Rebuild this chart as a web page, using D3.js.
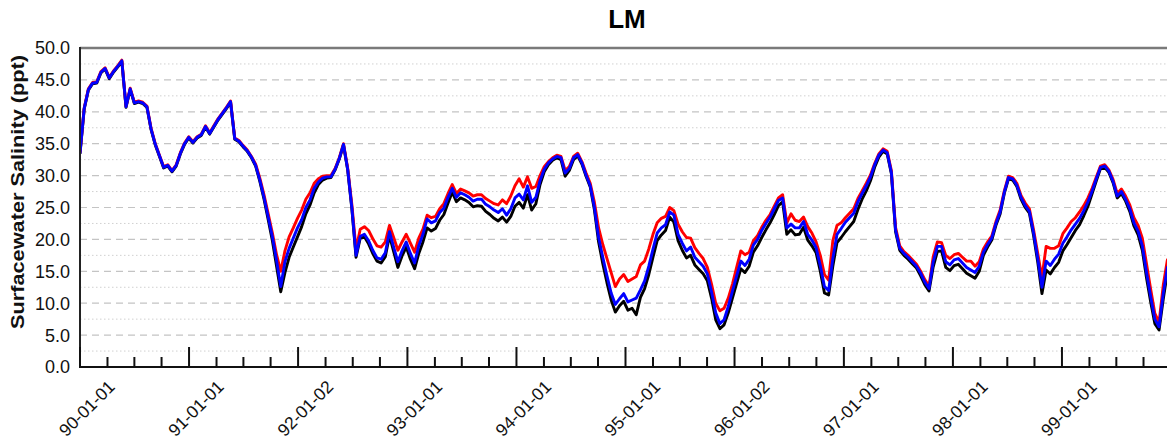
<!DOCTYPE html>
<html><head><meta charset="utf-8">
<script src="https://cdn.jsdelivr.net/npm/d3@7"></script>
<style>
html,body{margin:0;padding:0;background:#fff;}
svg{display:block;}
text{font-family:"Liberation Sans",Arial,Helvetica,sans-serif;}
</style></head>
<body>
<svg id="chart" width="1167" height="440"></svg>
<script>
const chartTitle = "LM";
const yTitle = "Surfacewater Salinity (ppt)";
const startDate = "1989-10-01";
const stepDays = 14;
const domainDates = ["1989-10-01", "1999-10-01"];
const xTickLabels = ["90-01-01","91-01-01","92-01-02","93-01-01","94-01-01","95-01-01","96-01-02","97-01-01","98-01-01","99-01-01"];
const yTickValues = [0,5,10,15,20,25,30,35,40,45,50];
const yMinorValues = [2.5,7.5,12.5,17.5,22.5,27.5,32.5,37.5,42.5,47.5];

const seriesBlack = [
33.4,40.4,43.4,44.4,44.5,46.1,46.7,45.2,46.2,47.0,
47.9,40.7,43.5,41.3,41.5,41.3,40.7,37.2,34.8,33.0,
31.2,31.5,30.6,31.5,33.4,34.9,35.9,35.1,35.9,36.3,
37.6,36.5,37.6,38.7,39.6,40.5,41.5,35.7,35.3,34.5,
33.8,32.8,31.5,29.1,26.3,23.1,19.8,15.8,11.8,14.8,
17.2,18.8,20.4,22.0,24.0,25.4,27.3,28.6,29.3,29.6,
29.7,30.9,32.6,34.8,30.9,24.8,17.2,20.2,20.4,19.3,
17.8,16.6,16.3,17.3,20.6,18.1,15.6,17.4,18.8,16.9,
15.4,17.8,19.6,21.8,21.3,21.7,23.0,23.9,25.7,27.4,
25.9,26.5,26.2,25.8,25.1,25.3,25.2,24.4,23.9,23.3,
22.9,23.5,22.7,23.6,25.2,25.8,24.9,27.0,24.6,25.6,
28.6,30.6,31.7,32.4,32.8,32.5,29.9,30.8,32.5,33.1,
31.8,29.9,28.2,24.6,19.6,16.2,13.2,10.5,8.6,9.6,
10.3,8.9,9.2,8.2,10.9,12.3,14.5,17.2,19.8,20.7,
21.4,23.5,22.7,19.8,18.3,17.1,17.5,16.0,15.3,14.6,
13.5,10.8,7.4,6.0,6.6,8.5,10.8,13.1,15.4,14.8,
15.8,18.0,19.0,20.3,21.5,22.6,23.9,25.3,25.9,20.8,
21.5,20.7,20.8,21.9,19.9,19.0,17.9,15.0,11.6,11.3,
15.8,19.5,20.3,21.2,22.0,22.8,24.7,26.3,27.6,29.2,
31.3,32.9,33.8,33.4,30.3,21.2,18.3,17.5,16.9,16.2,
15.5,14.3,12.9,11.9,15.7,18.1,18.2,15.6,15.1,15.9,
16.1,15.4,14.7,14.3,13.9,15.0,17.5,18.8,19.9,22.2,
24.0,27.2,29.5,29.3,28.3,26.3,25.0,24.1,20.6,16.4,
11.5,15.2,14.6,15.6,16.4,18.2,19.2,20.3,21.4,22.3,
23.7,25.2,27.2,29.2,31.1,31.3,30.5,28.9,26.5,27.2,
26.0,24.4,22.1,20.7,18.3,14.0,10.2,6.8,5.8,10.6,
14.9,15.9
];
const seriesRed = [
33.6,40.6,43.6,44.6,44.7,46.3,46.9,45.4,46.4,47.2,
48.1,40.9,43.7,41.5,41.7,41.5,40.9,37.4,35.0,33.2,
31.4,31.7,30.8,31.7,33.6,35.1,36.1,35.3,36.1,36.5,
37.8,36.7,37.8,38.9,39.8,40.7,41.7,35.9,35.5,34.7,
34.0,33.0,31.8,29.6,27.0,24.0,21.0,17.6,15.0,18.2,
20.4,21.8,23.3,24.6,26.3,27.3,28.8,29.5,29.9,30.0,
30.0,31.1,32.8,35.0,31.2,25.5,18.5,21.6,22.0,21.4,
20.1,19.0,18.8,19.6,22.2,20.3,18.3,19.6,20.8,19.4,
18.0,20.2,21.6,23.8,23.4,23.6,24.8,25.6,27.2,28.6,
27.2,27.9,27.6,27.3,26.8,27.0,27.0,26.4,26.0,25.6,
25.4,26.2,25.6,26.8,28.4,29.5,28.2,29.8,28.0,28.3,
30.0,31.4,32.2,32.8,33.2,33.0,30.8,31.4,33.0,33.5,
32.2,30.4,28.8,25.8,21.8,19.2,17.0,14.8,12.6,13.8,
14.5,13.4,13.8,14.2,16.0,16.6,18.5,20.8,22.6,23.3,
23.6,25.0,24.5,22.4,21.2,20.3,20.2,18.7,17.8,17.0,
15.6,13.0,10.0,8.8,9.2,10.8,13.0,15.6,18.2,17.6,
18.0,19.8,20.6,21.9,23.0,23.9,25.2,26.5,27.0,22.6,
24.0,23.0,22.8,23.5,22.0,21.0,19.6,17.5,14.5,13.6,
19.8,22.2,22.6,23.4,24.1,24.8,26.4,27.6,28.8,30.1,
31.9,33.4,34.2,33.8,30.8,21.9,19.0,18.1,17.5,16.8,
16.1,15.0,13.7,12.7,17.3,19.6,19.5,17.5,17.0,17.6,
17.8,17.2,16.6,16.6,15.8,16.5,18.5,19.6,20.5,22.8,
24.6,27.6,29.9,29.7,28.8,26.9,25.7,24.8,21.5,17.8,
14.0,18.9,18.6,18.6,19.0,20.9,21.8,22.8,23.4,24.3,
25.3,26.5,28.0,29.8,31.5,31.7,30.9,29.4,27.2,27.9,
26.8,25.4,23.4,22.2,20.2,16.2,12.2,8.4,7.0,12.8,
16.8,17.6
];
const seriesBlue = [
33.5,40.5,43.5,44.5,44.6,46.2,46.8,45.3,46.3,47.1,
48.0,40.8,43.6,41.4,41.6,41.4,40.8,37.3,34.9,33.1,
31.3,31.6,30.7,31.6,33.5,35.0,36.0,35.2,36.0,36.4,
37.7,36.6,37.7,38.8,39.7,40.6,41.6,35.8,35.4,34.6,
33.9,32.9,31.6,29.3,26.6,23.5,20.4,16.7,12.6,16.5,
18.6,20.2,21.8,23.1,25.0,26.2,28.0,29.0,29.6,29.8,
29.8,31.0,32.7,34.9,31.0,25.0,17.5,20.5,20.8,19.8,
18.3,17.1,16.9,17.9,21.2,18.8,16.5,18.2,19.6,17.8,
16.3,19.0,20.8,23.2,22.6,22.9,24.2,24.9,26.6,28.0,
26.6,27.3,27.0,26.6,26.0,26.3,26.3,25.5,25.1,24.6,
24.2,24.8,23.8,24.8,26.5,27.1,26.2,28.4,25.8,26.6,
29.2,31.0,32.0,32.6,33.0,32.8,30.4,31.1,32.8,33.3,
32.0,30.1,28.4,25.0,20.3,17.2,14.3,11.6,9.8,10.7,
11.5,10.2,10.5,10.8,12.1,13.5,15.8,18.5,21.0,21.8,
22.3,24.3,23.8,20.8,19.4,18.2,18.8,17.2,16.5,15.8,
14.6,11.8,8.5,6.8,7.4,9.5,11.9,14.3,16.6,15.9,
16.9,19.1,20.0,21.4,22.5,23.5,24.8,26.1,26.5,21.8,
22.4,21.8,21.8,22.8,20.8,19.9,18.7,15.9,12.6,12.0,
17.0,20.8,21.7,22.7,23.4,24.1,25.9,27.2,28.4,29.8,
31.7,33.2,34.0,33.6,30.5,21.5,18.6,17.8,17.2,16.5,
15.8,14.7,13.3,12.3,16.5,18.9,18.9,16.5,16.0,16.8,
17.0,16.3,15.6,15.2,14.8,15.8,18.0,19.2,20.2,22.5,
24.3,27.4,29.7,29.5,28.5,26.6,25.3,24.4,21.0,17.0,
12.5,16.6,15.9,16.9,17.7,19.4,20.4,21.5,22.4,23.3,
24.5,25.9,27.6,29.5,31.3,31.5,30.7,29.1,26.8,27.5,
26.3,24.8,22.6,21.3,19.0,14.8,11.0,7.5,6.3,11.5,
15.6,16.5
];
const seriesColors = ["#000000", "#ff0000", "#0000ff"];

(function () {
const svg = d3.select("#chart");
const W = 1167;
const pLeft = 80, pTop = 48, pBottom = 367, pRight = 1171;

const parse = d3.utcParse("%Y-%m-%d");
const x = d3.scaleUtc().domain(domainDates.map(parse)).range([pLeft, pRight]);
const y = d3.scaleLinear().domain([0, 50]).range([pBottom, pTop]);

svg.append("defs").append("clipPath").attr("id","clip")
  .append("rect").attr("x", pLeft).attr("y", pTop).attr("width", W - pLeft).attr("height", pBottom - pTop);

// grid
const g = svg.append("g");
g.selectAll("line.major").data(yTickValues.filter(v => v > 0 && v < 50)).join("line")
  .attr("class", "major")
  .attr("x1", pLeft).attr("x2", W).attr("y1", d => y(d)).attr("y2", d => y(d))
  .attr("stroke", "#c4c4c4").attr("stroke-width", 1.2).attr("stroke-dasharray", "7,5");
g.selectAll("line.minor").data(yMinorValues).join("line")
  .attr("class", "minor")
  .attr("x1", pLeft).attr("x2", W).attr("y1", d => y(d)).attr("y2", d => y(d))
  .attr("stroke", "#d0d0d0").attr("stroke-width", 1).attr("stroke-dasharray", "1.5,2.5");

// lines
const start = parse(startDate);
const line = d3.line().x((d, i) => x(d3.utcDay.offset(start, i * stepDays))).y(d => y(d));
const lg = svg.append("g").attr("clip-path", "url(#clip)");
[seriesBlack, seriesRed, seriesBlue].forEach((s, k) => {
  lg.append("path").datum(s).attr("d", line).attr("fill", "none")
    .attr("stroke", seriesColors[k]).attr("stroke-width", 2.9).attr("stroke-linejoin", "round");
});

// frame
svg.append("line").attr("x1", pLeft).attr("x2", W).attr("y1", pTop).attr("y2", pTop)
  .attr("stroke", "#7a7a7a").attr("stroke-width", 2.5);
svg.append("line").attr("x1", pLeft).attr("x2", pLeft).attr("y1", pTop - 1).attr("y2", pBottom)
  .attr("stroke", "#222").attr("stroke-width", 2);
svg.append("line").attr("x1", pLeft - 1).attr("x2", W).attr("y1", pBottom).attr("y2", pBottom)
  .attr("stroke", "#111").attr("stroke-width", 2);

// x ticks (quarterly, tall at Oct 1)
const tickDates = d3.utcMonth.every(3).range(x.domain()[0], d3.utcDay.offset(x.domain()[1], 1));
svg.append("g").selectAll("line").data(tickDates).join("line")
  .attr("x1", d => x(d)).attr("x2", d => x(d))
  .attr("y1", pBottom).attr("y2", d => pBottom - (d.getUTCMonth() === 9 ? 20 : 10))
  .attr("stroke", "#111").attr("stroke-width", 2);

// x labels
const parseLab = d3.utcParse("%y-%m-%d");
svg.append("g").selectAll("text").data(xTickLabels).join("text")
  .attr("transform", d => `translate(${x(parseLab(d)) - 0.5},379) rotate(-45)`)
  .attr("text-anchor", "end").attr("dy", "0.72em")
  .attr("font-size", 17.5).attr("fill", "#111").text(d => d);

// y labels
svg.append("g").selectAll("text").data(yTickValues).join("text")
  .attr("x", 70).attr("y", d => y(d)).attr("dy", "0.36em")
  .attr("text-anchor", "end").attr("font-size", 18).attr("fill", "#111")
  .text(d => d.toFixed(1));

// y title
svg.append("text").attr("transform", "translate(24,192) rotate(-90)")
  .attr("text-anchor", "middle").attr("font-size", 18.5).attr("font-weight", "bold")
  .attr("textLength", 274).attr("lengthAdjust", "spacingAndGlyphs")
  .attr("fill", "#111").text(yTitle);

// title
svg.append("text").attr("x", 627).attr("y", 28).attr("text-anchor", "middle")
  .attr("font-size", 26).attr("font-weight", "bold").attr("fill", "#000").text(chartTitle);
})();
</script>
</body></html>
